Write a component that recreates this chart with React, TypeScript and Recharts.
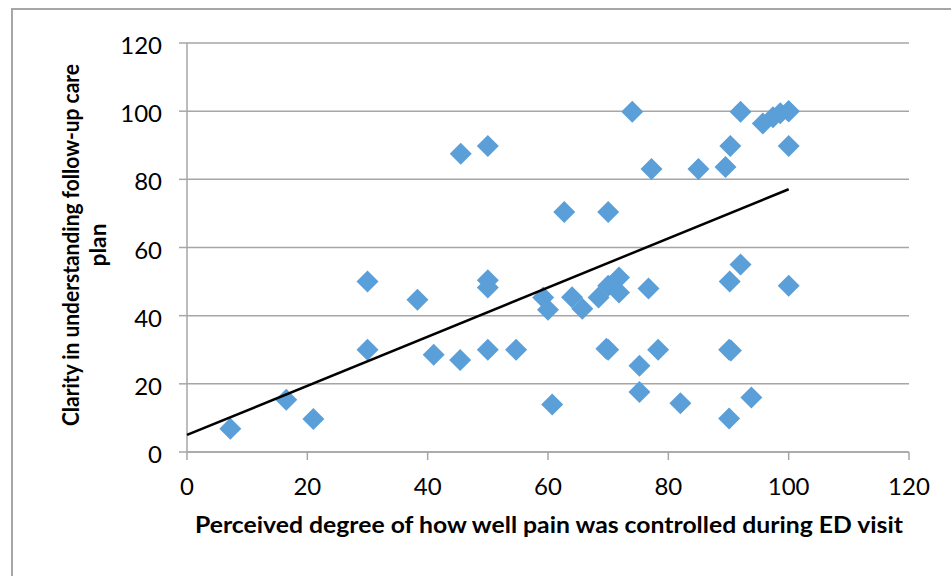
import React from "react";
import {
  CartesianGrid,
  Label,
  Scatter,
  ScatterChart,
  XAxis,
  YAxis
} from "recharts";

// pain control score (x) vs clarity of follow-up plan (y), one entry per respondent
const painControl = [
  7.2, 16.5, 21, 30, 30, 38.3, 41, 45.5, 45.4, 50, 50, 50, 50, 54.7, 59.2, 60,
  60.7, 62.7, 64, 65.7, 68.4, 70, 71.8, 71.8, 70, 70, 69.7, 74, 75.2, 75.2,
  76.7, 77.2, 78.3, 82, 85, 89.5, 90.3, 90.2, 90.1, 90.4, 90.1, 92, 92, 93.8,
  95.7, 97.4, 98.6, 100, 100, 100, 100
];
const followUpClarity = [
  6.8, 15.3, 9.7, 50, 30, 44.7, 28.5, 87.5, 27, 89.8, 50.4, 48.3, 30, 30, 45.3,
  41.7, 13.9, 70.4, 45.4, 42, 45.3, 48.8, 51.2, 46.8, 70.4, 30, 30.3, 99.8,
  25.3, 17.6, 48, 83, 30, 14.3, 83, 83.6, 89.8, 50, 30, 29.8, 9.8, 55, 99.8,
  16, 96.4, 98.2, 99.4, 100, 100, 89.8, 48.8
];

// linear trend endpoints
const trendX = [0, 100];
const trendY = [5, 77.1];

const axisTicks = [0, 20, 40, 60, 80, 100, 120];

const points = painControl.map((x, i) => ({ x, y: followUpClarity[i] }));
const trend = trendX.map((x, i) => ({ x, y: trendY[i] }));

const GRID = "#a6a6a6";
const POINT = "#5b9fd9";
const FONT = "Lato, 'Open Sans', sans-serif";

function Diamond(props: any) {
  const { cx, cy } = props;
  const r = 11;
  return (
    <path
      d={`M${cx},${cy - r}L${cx + r},${cy}L${cx},${cy + r}L${cx - r},${cy}Z`}
      fill={POINT}
    />
  );
}

function NoMark() {
  return <g />;
}

function YTick(props: any) {
  const { x, y, payload } = props;
  return (
    <text x={x} y={y} dy={11} textAnchor="end" fontFamily={FONT} fontSize={24} fill="#000">
      {payload.value}
    </text>
  );
}

function XTick(props: any) {
  const { x, y, payload } = props;
  return (
    <text x={x} y={y} dy={16} textAnchor="middle" fontFamily={FONT} fontSize={24} fill="#000">
      {payload.value}
    </text>
  );
}

function XTitle() {
  return (
    <text
      x={549}
      y={533}
      textAnchor="middle"
      fontFamily={FONT}
      fontWeight={700}
      fontSize={23}
      fill="#000"
      textLength={708}
      lengthAdjust="spacingAndGlyphs"
    >
      Perceived degree of how well pain was controlled during ED visit
    </text>
  );
}

function YTitle() {
  const cy = 245;
  return (
    <g transform={`rotate(-90, 79, ${cy})`} fontFamily={FONT} fontWeight={700} fontSize={23} fill="#000">
      <text x={79} y={cy} textAnchor="middle" textLength={362} lengthAdjust="spacingAndGlyphs">
        Clarity in understanding follow-up care
      </text>
      <text x={79} y={cy + 27} textAnchor="middle" textLength={43} lengthAdjust="spacingAndGlyphs">
        plan
      </text>
    </g>
  );
}

export default function App() {
  return (
    <div
      style={{
        position: "fixed",
        left: 0,
        top: 0,
        width: 951,
        height: 576,
        overflow: "hidden",
        background: "#fff"
      }}
    >
      <div
        style={{
          position: "absolute",
          left: 11,
          top: 8,
          width: 2000,
          height: 2000,
          border: `2px solid ${GRID}`
        }}
      />
      <div style={{ position: "absolute", left: 0, top: 0 }}>
        <ScatterChart width={951} height={576} margin={{ top: 43, right: 42, bottom: 0, left: 0 }}>
          <CartesianGrid vertical={false} stroke={GRID} strokeWidth={1.5} />
          <XAxis
            type="number"
            dataKey="x"
            domain={[0, 120]}
            ticks={axisTicks}
            height={124}
            stroke={GRID}
            strokeWidth={1.5}
            tickSize={8}
            tickMargin={19}
            tick={<XTick />}
            interval={0}
          >
            <Label content={<XTitle />} />
          </XAxis>
          <YAxis
            type="number"
            dataKey="y"
            domain={[0, 120]}
            ticks={axisTicks}
            width={187}
            stroke={GRID}
            strokeWidth={1.5}
            tickSize={8}
            tickMargin={17}
            tick={<YTick />}
            interval={0}
          >
            <Label content={<YTitle />} />
          </YAxis>
          <Scatter data={points} shape={<Diamond />} isAnimationActive={false} />
          <Scatter
            data={trend}
            line={{ stroke: "#000", strokeWidth: 2.5 }}
            shape={<NoMark />}
            isAnimationActive={false}
          />
        </ScatterChart>
      </div>
    </div>
  );
}
